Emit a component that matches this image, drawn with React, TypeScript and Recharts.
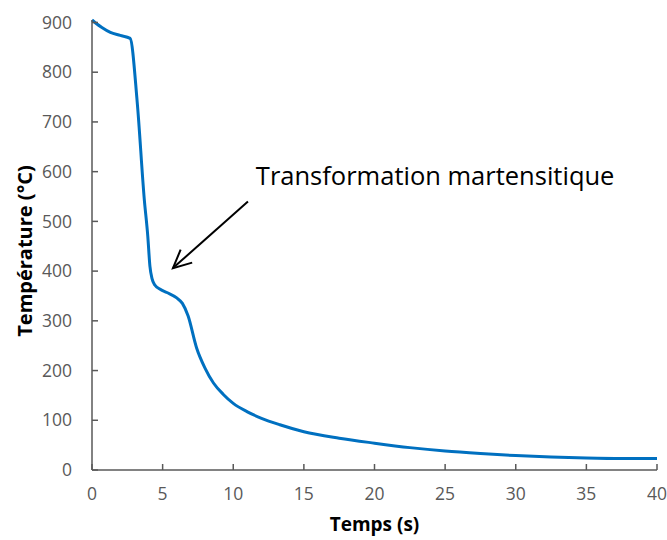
import React from "react";
import {
  LineChart,
  Line,
  XAxis,
  YAxis,
  ReferenceLine,
  ReferenceDot,
} from "recharts";

// temps (s) et température (°C)
const TIME = [
  0, 0.3, 0.7, 1.3, 2.0, 2.7, 3.2, 3.7, 3.95, 4.1, 4.25, 4.45, 4.8, 5.3, 6.0,
  6.4, 6.8, 7.4, 8.0, 8.6, 9.3, 10, 11, 12, 13.3, 15, 17.5, 20, 22.5, 25, 27.5,
  30, 32.5, 35, 37.5, 40,
];
const TEMP = [
  905, 898, 890, 880, 874, 868, 740, 545, 470, 410, 385, 372, 364, 357, 346,
  335, 310, 246, 205, 175, 152, 134, 117, 104, 91, 77, 64, 54, 45, 38, 33, 29,
  26, 24, 23, 23,
];
const X_TICKS = [0, 5, 10, 15, 20, 25, 30, 35, 40];
const Y_TICKS = [0, 100, 200, 300, 400, 500, 600, 700, 800, 900];

// annotation
const NOTE_TEXT = "Transformation martensitique";
const NOTE_POS = { x: 11.6, y: 574 };
const ARROW_FROM = { x: 11.04, y: 540 };
const ARROW_TO = { x: 5.73, y: 406 };

const data = TIME.map((t, i) => ({ t, temp: TEMP[i] }));

const axisColor = "#595959";
const tickFont = { fontSize: 17.5, fill: "#595959", fontFamily: "Open Sans" };
const titleFont = {
  fontWeight: 700,
  fill: "#000",
  fontFamily: "Open Sans",
};

function Arrow(props: any) {
  const { x1, y1, x2, y2 } = props;
  const ang = Math.atan2(y2 - y1, x2 - x1);
  const len = 20;
  const spread = Math.PI / 7;
  const ax = x2 - len * Math.cos(ang - spread);
  const ay = y2 - len * Math.sin(ang - spread);
  const bx = x2 - len * Math.cos(ang + spread);
  const by = y2 - len * Math.sin(ang + spread);
  return (
    <g stroke="#000" strokeWidth={2} fill="none">
      <line x1={x1} y1={y1} x2={x2} y2={y2} />
      <polyline points={`${ax},${ay} ${x2},${y2} ${bx},${by}`} />
    </g>
  );
}

export default function App() {
  return (
    <div style={{ position: "fixed", left: 0, top: 0, background: "#fff" }}>
      <LineChart
        width={667}
        height={540}
        data={data}
        margin={{ top: 20, right: 10, bottom: 0, left: 0 }}
      >
        <XAxis
          dataKey="t"
          type="number"
          domain={[0, 40]}
          ticks={X_TICKS}
          interval={0}
          height={70}
          stroke={axisColor}
          strokeWidth={1.5}
          tickSize={-6}
          tickMargin={24}
          tick={tickFont}
          label={{
            value: "Temps (s)",
            position: "insideBottom",
            offset: 9,
            style: { ...titleFont, fontSize: 19 },
          }}
        />
        <YAxis
          type="number"
          domain={[0, 900]}
          ticks={Y_TICKS}
          interval={0}
          width={92}
          stroke={axisColor}
          strokeWidth={1.5}
          tickSize={-6}
          tickMargin={26}
          tick={tickFont}
          label={{
            content: (p: any) => {
              const vb = p.viewBox;
              const cx = vb.x + 24;
              const cy = vb.y + vb.height / 2 + 6;
              return (
                <text
                  x={cx}
                  y={cy}
                  transform={`rotate(-90 ${cx} ${cy})`}
                  textAnchor="middle"
                  dominantBaseline="central"
                  style={{ ...titleFont, fontSize: 20 }}
                >
                  Température (°C)
                </text>
              );
            },
          }}
        />
        <Line
          dataKey="temp"
          type="monotone"
          stroke="#0070C0"
          strokeWidth={3}
          dot={false}
          isAnimationActive={false}
        />
        <ReferenceLine
          segment={[ARROW_FROM, ARROW_TO]}
          shape={(p: any) => <Arrow {...p} />}
        />
        <ReferenceDot
          x={NOTE_POS.x}
          y={NOTE_POS.y}
          r={0}
          shape={(p: any) => (
            <text
              x={p.cx}
              y={p.cy}
              textAnchor="start"
              style={{ fontSize: 25.5, fill: "#000", fontFamily: "Open Sans" }}
            >
              {NOTE_TEXT}
            </text>
          )}
        />
      </LineChart>
    </div>
  );
}
